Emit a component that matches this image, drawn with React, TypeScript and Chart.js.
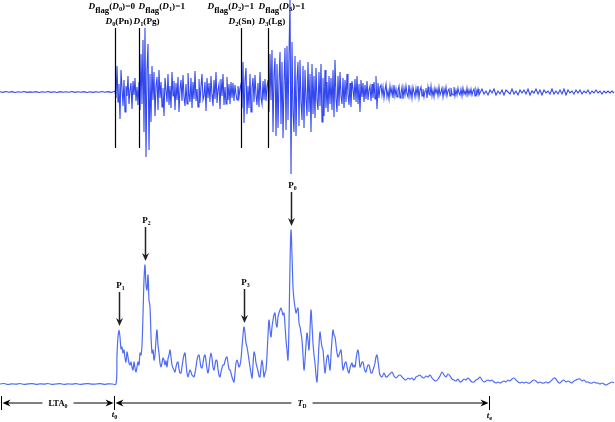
import React, { useEffect, useRef } from "react";
import { Chart, registerables } from "chart.js";

Chart.register(...registerables);

// ---------- Seismogram (amplitude, + is up) ----------
const preEventStart = 0;
const preEventStep = 3;
const preEventNoise = [0.3, -0.4, 0.5, -0.2, 0.4, -0.5, 0.2, -0.3, 0.5, -0.4, 0.1, -0.3, 0.4, -0.5, 0.3, -0.2, 0.5, -0.4, 0.2, -0.5, 0.4, -0.3, 0.3, -0.2, 0.5, -0.4, 0.2, -0.3, 0.4, -0.5, 0.3, -0.4, 0.2, -0.3, 0.5, -0.2, 0.4, -0.4, 0.6];

const pnStart = 115;
const pnWave = [1, -6, 26, -10, 8, -27, 22, 4, -14, 12, -20, 6, -4, 16, -12, 2, 9, -17, 11, -3, 14, -9, 5, -13];

const pgStart = 139;
const pgWave = [10, -18, 38, -12, 52, -40, 64, -65, 22, 48, -58, 18, -30, 26, -8, 20, -24, 6, 15, -18];

const pgCodaStart = 159;
const pgCoda = [
  22, -6, 10, -15, 4, -24, 14, 2, -10, 18,
  -13, 6, -16, 20, -4, 11, -18, 9, -8, 15,
  -20, 3, 12, -9, 17, -5, -14, 8, -12, 19,
  -2, -10, 14, -16, 10, -7, 21, -9, 3, -15,
  13, -11, 6, 18, -8, -4, 10, -19, 14, -6,
  9, -10, 16, -3, -14, 12, -7, 20, -11, 2,
  8, -17, 13, -4, 18, -13, 5, -12, 15, -8,
  8, -12, 10, -6, 9, -9, 7, -2, -8, 6,
  -5, 4,
];

const snStart = 241;
const snWave = [8, -16, 30, -31, 12, 24, -22, 6, -16, 18, -20, 4, 14, -10, 17, -3, -13, 9, -15, 20, -6, -12, 11, -8, 13, -9, 6];

const lgStart = 268;
const lgWave = [
  12, -20, 38, -8, 42, -40, 18, 34, -44, 28,
  -36, 10, 40, -32, 30, -46, 8, 44, -38, 46,
  -28, 38, 92, -82, 50, -20, -40, 36, -44, 12,
  30, -34, 32, -10, -28, 26, -36, 22, -6, -24,
  30, -20, 18, -40, 28, -22, 16, -26, 24, -8,
  -18, 20, -14, 28, -30, 14, -24, 22, -16, 10,
  -20, 16, -12,
];

const lgCodaStart = 331;
const lgCoda = [
  14, -18, 22, -25, 32, -6, -20, 16, -14, 20,
  -4, -12, 14, -16, 12, -10, 18, -2, -13, 9,
  -15, 11, 3, -8, 13, -10, 16, -12, 8, -20,
  12, -5, 9, -10, 7, -7, 11, -8, 2, 6,
  -9, 8, -6, 10, -7, 16, -17, 9, -6, 5,
];

const tailStart = 381;
const tailCoda = [
  7, -3, 5, -6, 2, 8, -5, 1, -7, 6,
  -2, 4, -6, 7, -4, 3, -5, 2, 6, -6,
  -1, 5, -7, 4, -3, 6, -2, -5, 7, -4,
  3, -6, 5, 0, -5, 4, -3, 6, -6, 2,
  5, -4, 3, -5, 1, 4, -6, 5, -2, -3,
  6, -4, 2, -5, 4, -1, 3, -4, 5, -3,
  0, 4, -5, 3, -2, 5, -4, 1, 3, -4,
  4, -2, -3, 5, -4, 2, -3, 4, -1, -3,
  3, -4, 4, -2, 1, -3, 4, -3, 2, -2,
  3, -3, 1, 3, -4, 2, -2, 3, -3,
];

const farTailStart = 482;
const farTailStep = 2;
const farTailCoda = [
  3, -2, 1, -3, 2, -1, 3, -3, 1, -2,
  2, -3, 2, 0, -2, 3, -2, 1, -3, 2,
  -1, 2, -2, 3, -3, 1, -1, 3, -2, 2,
  -3, 2, -1, 1, -2, 3, -2, 1, -2, 2,
  -2, 3, -3, 2, -1, 1, -2, 2, -1, 2,
  -2, 1, -1, 2, -2, 1, -1, 2, -1, 1,
  -2, 1, -1, 1, -1, 1, -1,
];

// ---------- Envelope (>= 0) ----------
const envPreStart = 0;
const envPreStep = 4;
const envPreEvent = [1, 1.5, 0.5, 1.2, 0.8, 1.5, 0.6, 1.1, 1.4, 0.7, 1.2, 0.9, 1.5, 0.6, 1.0, 1.3, 0.7, 1.2, 0.8, 1.4, 0.6, 1.1, 1.3, 0.8, 1.0, 1.4, 0.7, 1.2, 1.0];

const envOnsetStart = 116;
const envOnset = [
  1, 30, 48, 55, 48, 36, 38, 32, 35, 27,
  23, 33, 28, 22, 20, 23, 18, 15, 23, 17,
  13, 18, 23, 20, 32, 30, 40, 70, 105, 120,
  100, 95, 110, 85, 78, 50, 32, 35, 25, 30,
  45, 55, 40, 32, 22,
];

const envPgCodaStart = 161;
const envPgCoda = [
  18, 22, 27, 25, 20, 24, 18, 26, 30, 35,
  28, 20, 17, 15, 13, 18, 22, 23, 16, 12,
  12, 18, 25, 30, 32, 22, 12, 8, 12, 15,
  13, 10, 9, 8, 12, 18, 25, 29, 30, 24,
  18, 17, 22, 28, 30, 24, 16, 12, 18, 27,
  32, 27, 18, 15, 20, 25, 24, 16, 10, 8,
  13, 17, 20, 20, 24, 27, 28, 22, 16, 15,
  12, 8, 5, 3, 12, 22, 25, 22, 18, 20,
];

const envSnStart = 241;
const envSn = [
  26, 38, 50, 58, 52, 42, 38, 32, 25, 18,
  12, 7, 20, 33, 30, 22, 18, 14, 9, 8,
  18, 25, 18, 8, 12, 15,
];

const envLgStart = 267;
const envLg = [
  30, 50, 65, 55, 48, 58, 65, 70, 72, 62,
  58, 68, 72, 75, 77, 74, 70, 72, 60, 45,
  35, 25, 60, 120, 155, 130, 98, 85, 78, 72,
  75, 77, 62, 58, 52, 45, 30, 15, 25, 40,
  52, 45, 35, 55, 75, 60, 42, 30, 22, 10,
  3, 20, 40, 53, 45, 38, 35, 22, 12, 20,
  28, 30, 22, 15,
];

const envLgCodaStart = 331;
const envLgCoda = [
  30, 45, 55, 50, 48, 40, 32, 28, 30, 33,
  35, 25, 15, 18, 22, 23, 18, 14, 12, 17,
  20, 22, 18, 20, 18, 25, 32, 35, 28, 18,
  20, 23, 23, 18, 14, 13, 17, 20, 20, 16,
  12, 12, 15, 18, 22, 28, 30, 24, 16, 10,
];

const envTailStart = 382;
const envTailStep = 2;
const envTail = [
  8, 12, 8, 9, 11, 13, 9, 7, 9, 10,
  8, 6, 5, 7, 6, 7, 5, 8, 9, 10,
  8, 7, 9, 8, 10, 7, 5, 4, 6, 9,
  13, 10, 8, 11, 9, 6, 5, 4, 6, 3,
  4, 6, 5, 7, 5, 3, 3, 5, 6, 8,
  5, 3, 4, 5, 4, 5, 3, 2, 3, 2,
  3, 4, 3, 5, 4, 6, 7, 5, 3, 2,
  3, 2, 3, 2, 2, 4, 5, 4, 2, 3,
  2, 2, 3, 2, 3, 5, 7, 6, 3, 2,
  4, 5, 3, 4, 3, 2, 4, 5, 6, 6,
  4, 5, 3, 3, 2, 2, 3, 2, 2, 1,
  2, 1, 0, 1, 2, 3, 2,
];

// ---------- Annotations ----------
const phaseTimes = [115, 139, 241, 268];
const phaseNames = ["Pn", "Pg", "Sn", "Lg"];
const phaseIndex = ["0", "1", "2", "3"];
const flagValues = ["0", "1", "1", "1"];

const peakNames = ["1", "2", "3", "0"];
const peakTimes = [119, 145, 244, 291];

const windowStart = 1;
const onsetTime = 114;
const endTime = 489;

type Seg = { start: number; step: number; values: number[] };
function build(segs: Seg[]) {
  const out: { x: number; y: number }[] = [];
  segs.forEach((s) => s.values.forEach((v, i) => out.push({ x: s.start + i * s.step, y: v })));
  return out;
}

const seisData = build([
  { start: preEventStart, step: preEventStep, values: preEventNoise },
  { start: pnStart, step: 1, values: pnWave },
  { start: pgStart, step: 1, values: pgWave },
  { start: pgCodaStart, step: 1, values: pgCoda },
  { start: snStart, step: 1, values: snWave },
  { start: lgStart, step: 1, values: lgWave },
  { start: lgCodaStart, step: 1, values: lgCoda },
  { start: tailStart, step: 1, values: tailCoda },
  { start: farTailStart, step: farTailStep, values: farTailCoda },
]);

const envData = build([
  { start: envPreStart, step: envPreStep, values: envPreEvent },
  { start: envOnsetStart, step: 1, values: envOnset },
  { start: envPgCodaStart, step: 1, values: envPgCoda },
  { start: envSnStart, step: 1, values: envSn },
  { start: envLgStart, step: 1, values: envLg },
  { start: envLgCodaStart, step: 1, values: envLgCoda },
  { start: envTailStart, step: envTailStep, values: envTail },
]);

type Run = { t: string; it?: boolean; dy?: number; sz?: number };
const FONT = '"Liberation Serif", "Times New Roman", serif';

function runsWidth(ctx: CanvasRenderingContext2D, runs: Run[], size: number) {
  let w = 0;
  for (const r of runs) {
    ctx.font = `${r.it ? "italic " : ""}bold ${size * (r.sz ?? 1)}px ${FONT}`;
    w += ctx.measureText(r.t).width;
  }
  return w;
}
function drawRuns(ctx: CanvasRenderingContext2D, runs: Run[], x: number, y: number, size: number, align: "left" | "center" = "left") {
  let cx = align === "center" ? x - runsWidth(ctx, runs, size) / 2 : x;
  ctx.textBaseline = "alphabetic";
  ctx.textAlign = "left";
  for (const r of runs) {
    ctx.font = `${r.it ? "italic " : ""}bold ${size * (r.sz ?? 1)}px ${FONT}`;
    ctx.fillText(r.t, cx, y + (r.dy ?? 0));
    cx += ctx.measureText(r.t).width;
  }
}

function arrowHead(ctx: CanvasRenderingContext2D, tipX: number, tipY: number, dir: "down" | "left" | "right") {
  const L = 8, W = 3.5, N = 5.5;
  ctx.beginPath();
  if (dir === "down") {
    ctx.moveTo(tipX, tipY);
    ctx.lineTo(tipX - W, tipY - L);
    ctx.lineTo(tipX, tipY - N);
    ctx.lineTo(tipX + W, tipY - L);
  } else if (dir === "left") {
    ctx.moveTo(tipX, tipY);
    ctx.lineTo(tipX + L, tipY - W);
    ctx.lineTo(tipX + N, tipY);
    ctx.lineTo(tipX + L, tipY + W);
  } else {
    ctx.moveTo(tipX, tipY);
    ctx.lineTo(tipX - L, tipY - W);
    ctx.lineTo(tipX - N, tipY);
    ctx.lineTo(tipX - L, tipY + W);
  }
  ctx.closePath();
  ctx.fill();
}

function envValueAt(t: number) {
  const p = envData.find((d) => d.x === t);
  return p ? p.y : 0;
}

const annotationPlugin = {
  id: "seisAnnotations",
  afterDatasetsDraw(chart: any) {
    const ctx: CanvasRenderingContext2D = chart.ctx;
    const x = chart.scales.x;
    const yEnv = chart.scales.yEnv;
    const area = chart.chartArea;
    ctx.save();
    ctx.fillStyle = "#000";
    ctx.strokeStyle = "#000";

    // phase pick lines and labels
    const row1Off = [-27, -1, -34, -10];
    const row2Off = [-10, -6, -13, -10];
    phaseTimes.forEach((t, i) => {
      const px = Math.round(x.getPixelForValue(t)) + 0.5;
      ctx.lineWidth = 1.2;
      ctx.beginPath();
      ctx.moveTo(px, area.top + 28);
      ctx.lineTo(px, area.top + 148);
      ctx.stroke();
      drawRuns(ctx, [
        { t: "D", it: true },
        { t: "flag", dy: 4.5, sz: 0.95 },
        { t: "(" },
        { t: "D", it: true },
        { t: phaseIndex[i], dy: 2.5, sz: 0.7 },
        { t: ")=" + flagValues[i] },
      ], px + row1Off[i], area.top + 8.5, 9.2);
      drawRuns(ctx, [
        { t: "D", it: true },
        { t: phaseIndex[i], dy: 2.5, sz: 0.7 },
        { t: "(" + phaseNames[i] + ")" },
      ], px + row2Off[i], area.top + 23.5, 9.2);
    });

    // peak arrows
    peakTimes.forEach((t, i) => {
      const px = Math.round(x.getPixelForValue(t)) + 0.5;
      const tip = yEnv.getPixelForValue(envValueAt(t)) - 4;
      const top = tip - 34;
      ctx.fillStyle = "#222";
      ctx.strokeStyle = "#222";
      ctx.lineWidth = 1.5;
      ctx.beginPath();
      ctx.moveTo(px, top);
      ctx.lineTo(px, tip - 5);
      ctx.stroke();
      arrowHead(ctx, px, tip, "down");
      ctx.fillStyle = "#000";
      drawRuns(ctx, [{ t: "P" }, { t: peakNames[i], dy: 2, sz: 0.65 }], px + 1, top - 4, 9, "center");
    });

    // time window arrows
    const yArr = area.bottom - 19;
    const xs = Math.round(x.getPixelForValue(windowStart)) + 0.5;
    const x0 = Math.round(x.getPixelForValue(onsetTime)) + 0.5;
    const xe = Math.round(x.getPixelForValue(endTime)) + 0.5;
    ctx.fillStyle = "#000";
    ctx.strokeStyle = "#000";
    ctx.lineWidth = 1;
    [xs, x0, xe].forEach((px) => {
      ctx.beginPath();
      ctx.moveTo(px, yArr - 7);
      ctx.lineTo(px, yArr + 7);
      ctx.stroke();
    });
    const seg = (a: number, b: number, runs: Run[]) => {
      const mid = (a + b) / 2;
      const w = runsWidth(ctx, runs, 8.5);
      const gap = w / 2 + 6;
      ctx.lineWidth = 1;
      ctx.beginPath();
      ctx.moveTo(a + 4, yArr);
      ctx.lineTo(mid - gap, yArr);
      ctx.moveTo(mid + gap, yArr);
      ctx.lineTo(b - 4, yArr);
      ctx.stroke();
      arrowHead(ctx, a + 1, yArr, "left");
      arrowHead(ctx, b - 1, yArr, "right");
      drawRuns(ctx, runs, mid, yArr + 3, 8.5, "center");
    };
    seg(xs, x0, [{ t: "LTA" }, { t: "0", dy: 2, sz: 0.7 }]);
    seg(x0, xe, [{ t: "T", it: true }, { t: "D", dy: 2, sz: 0.65 }]);
    drawRuns(ctx, [{ t: "t", it: true }, { t: "0", dy: 2, sz: 0.7 }], x0, area.bottom - 5, 9, "center");
    drawRuns(ctx, [{ t: "t", it: true }, { t: "e", dy: 2, sz: 0.7 }], xe, area.bottom - 4, 9, "center");

    ctx.restore();
  },
};

export default function App() {
  const ref = useRef<HTMLCanvasElement>(null);
  useEffect(() => {
    const chart = new Chart(ref.current as HTMLCanvasElement, {
      type: "line",
      data: {
        datasets: [
          {
            data: seisData,
            yAxisID: "ySeis",
            borderColor: "#3348ee",
            borderWidth: 1.1,
            pointRadius: 0,
            tension: 0,
          },
          {
            data: envData,
            yAxisID: "yEnv",
            borderColor: "#4f6cf6",
            borderWidth: 1.2,
            pointRadius: 0,
            tension: 0.35,
          },
        ],
      },
      options: {
        animation: false,
        responsive: false,
        maintainAspectRatio: false,
        layout: { padding: 0 },
        plugins: { legend: { display: false }, tooltip: { enabled: false } },
        scales: {
          x: { type: "linear", min: 0, max: 615, display: false },
          ySeis: { type: "linear", min: -330, max: 92, display: false },
          yEnv: { type: "linear", min: -37, max: 385, display: false },
        },
      },
      plugins: [annotationPlugin],
    });
    return () => chart.destroy();
  }, []);
  return (
    <div style={{ position: "fixed", left: 0, top: 0, width: 615, height: 422, background: "#fff" }}>
      <canvas ref={ref} width={615} height={422} style={{ display: "block", width: 615, height: 422 }} />
    </div>
  );
}
